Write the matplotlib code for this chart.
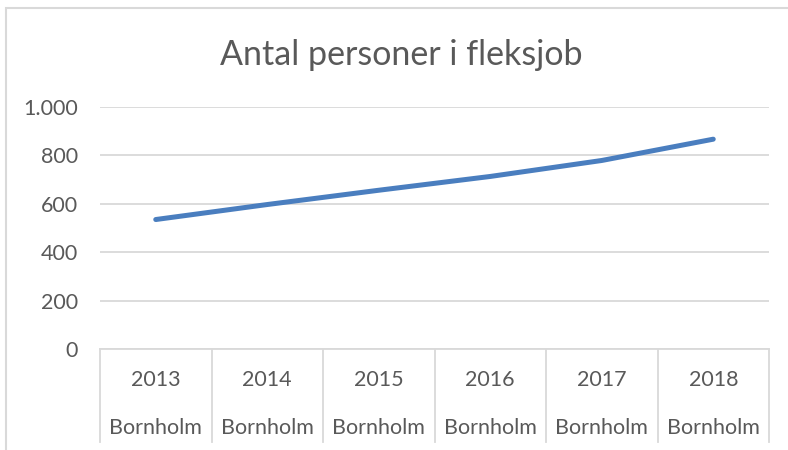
import matplotlib.pyplot as plt
from matplotlib.patches import Rectangle

years = ['2013', '2014', '2015', '2016', '2017', '2018']
region = 'Bornholm'
persons = [535, 597, 656, 713, 779, 867]
y_ticks = [0, 200, 400, 600, 800, 1000]

text_color = '#595959'
grid_color = '#d9d9d9'
line_color = '#4a7ebf'

plt.rcParams['font.family'] = ['Lato', 'DejaVu Sans']

fig = plt.figure(figsize=(7.88, 4.5), dpi=100)
W, H = 788, 450

# outer chart border (only left and top are visible in the screenshot)
fig.patches.append(Rectangle((6 / W, -0.1), 1.2, (H - 8) / H + 0.1,
                             transform=fig.transFigure, fill=False,
                             edgecolor=grid_color, linewidth=1.5))

ax = fig.add_axes([100 / W, (H - 349) / H, 669 / W, 242 / H])
x = list(range(len(years)))
ax.plot(x, persons, color=line_color, linewidth=3.6, solid_capstyle='round', zorder=3)

ax.set_xlim(-0.5, len(years) - 0.5)
ax.set_ylim(0, 1000)
ax.set_yticks(y_ticks)
ax.set_yticklabels([f'{v:,.0f}'.replace(',', '.') for v in y_ticks])
ax.tick_params(axis='y', length=0, pad=16, labelsize=15.5, labelcolor=text_color)
ax.set_xticks([])
for s in ax.spines.values():
    s.set_visible(False)
ax.grid(axis='y', color=grid_color, linewidth=1.3)
ax.set_axisbelow(True)

# category table under the axis
trans = ax.get_xaxis_transform()
ax.plot([-0.5, len(years) - 0.5], [0, 0], transform=trans, color=grid_color,
        linewidth=1.3, clip_on=False)
for i in range(len(years) + 1):
    ax.plot([i - 0.5, i - 0.5], [0, -0.384], transform=trans, color=grid_color,
            linewidth=1.3, clip_on=False)
for i, yr in enumerate(years):
    ax.text(i, -0.128, yr, transform=trans, ha='center', va='center',
            fontsize=15.5, color=text_color)
    ax.text(i, -0.326, region, transform=trans, ha='center', va='center',
            fontsize=15.5, color=text_color)

fig.text(401 / W, (H - 55) / H, 'Antal personer i fleksjob', ha='center', va='center',
         fontsize=24.5, color=text_color)

fig.savefig('out.png', dpi=100)
